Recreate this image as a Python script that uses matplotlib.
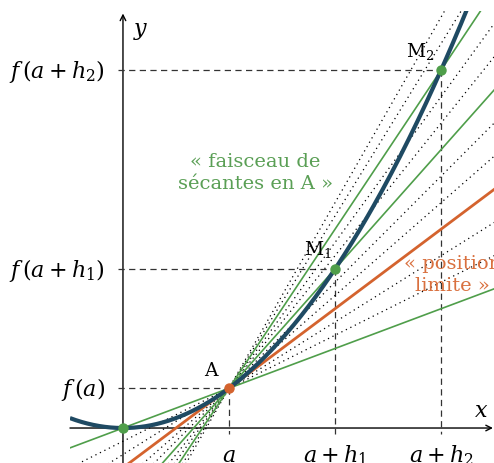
import matplotlib
matplotlib.use("Agg")
import matplotlib.pyplot as plt
import numpy as np
from matplotlib.patches import Rectangle

# f(x) = c x^2, point A at x = a, points M1, M2 at a+h1, a+h2
c = 0.375
a = 1.0
h_green = [-1.0, 1.0, 2.0]
h_dotted = [-2/3, -1/3, 1/3, 2/3, 4/3, 5/3, 7/3, 8/3]
h_marks = [1.0, 2.0]
xtick_labels = [r'$a$', r'$a+h_1$', r'$a+h_2$']
ytick_labels = [r'$f\,(a)$', r'$f\,(a+h_1)$', r'$f\,(a+h_2)$']

blue = '#1f4a63'
green = '#4f9e4a'
orange = '#d4632e'
dash_col = '#333333'

plt.rcParams['font.family'] = ['DejaVu Serif']
plt.rcParams['mathtext.fontset'] = 'dejavuserif'


def f(x):
    return c * x ** 2


def slope(h):
    return (f(a + h) - f(a)) / h


fig = plt.figure(figsize=(4.94, 4.64), dpi=100)
ax = fig.add_axes([0, 0, 1, 1])
ax.set_xlim(-1.160, 3.500)
ax.set_ylim(-0.330, 4.047)
ax.set_aspect('equal')
ax.axis('off')

clip = Rectangle((-0.5, -0.6), 4.0, 4.53, transform=ax.transData,
                 facecolor='none', edgecolor='none')
ax.add_patch(clip)

xs = np.linspace(-0.6, 3.6, 50)
for h in h_dotted:
    ln, = ax.plot(xs, f(a) + slope(h) * (xs - a), color='black', lw=0.9,
                  ls=(0, (1, 3)), zorder=2)
    ln.set_clip_path(clip)
for h in h_green:
    ln, = ax.plot(xs, f(a) + slope(h) * (xs - a), color=green, lw=1.2,
                  zorder=3)
    ln.set_clip_path(clip)

# tangent: limit position
ln, = ax.plot(xs, f(a) + 2 * c * a * (xs - a), color=orange, lw=2.0, zorder=4)
ln.set_clip_path(clip)

# curve
xc = np.linspace(-0.5, 3.6, 300)
ln, = ax.plot(xc, f(xc), color=blue, lw=3.0, zorder=5, solid_capstyle='butt')
ln.set_clip_path(clip)

# axes with arrows
ax.annotate('', xy=(3.49, 0), xytext=(-0.5, 0),
            arrowprops=dict(arrowstyle='->', lw=1.0, color='black',
                            shrinkA=0, shrinkB=0), zorder=1)
ax.annotate('', xy=(0, 3.91), xytext=(0, -0.34),
            arrowprops=dict(arrowstyle='->', lw=1.0, color='black',
                            shrinkA=0, shrinkB=0), zorder=1)
ax.text(3.38, 0.17, r'$x$', fontsize=16, ha='center', va='center')
ax.text(0.17, 3.75, r'$y$', fontsize=16, ha='center', va='center')

# dashed guides
xp = [a] + [a + h for h in h_marks]
for xv, xl, yl in zip(xp, xtick_labels, ytick_labels):
    yv = f(xv)
    ax.plot([-0.05, xv], [yv, yv], color=dash_col, lw=0.9, ls=(0, (5, 3.5)),
            zorder=1)
    ax.plot([xv, xv], [yv, -0.06], color=dash_col, lw=0.9, ls=(0, (5, 3.5)),
            zorder=1)
    ax.text(xv, -0.25, xl, fontsize=16, ha='center', va='center')
    ax.text(-0.17, yv, yl, fontsize=16, ha='right', va='center')

# points
ax.plot([0], [0], 'o', color=green, ms=6.5, zorder=6)
ax.plot([a], [f(a)], 'o', color=orange, ms=6.5, zorder=6)
ax.plot([a + h for h in h_marks], [f(a + h) for h in h_marks], 'o',
        color=green, ms=6.5, zorder=6)

ax.text(a - 0.17, f(a) + 0.17, 'A', fontsize=13.5, ha='center', va='center')
ax.text(a + h_marks[0] - 0.16, f(a + h_marks[0]) + 0.19, r'M$_1$',
        fontsize=13.5, ha='center', va='center')
ax.text(a + h_marks[1] - 0.2, f(a + h_marks[1]) + 0.19, r'M$_2$',
        fontsize=13.5, ha='center', va='center')

ax.text(1.25, 2.415, '« faisceau de\nsécantes en A »', fontsize=14,
        color='#5a9f55', ha='center', va='center', linespacing=1.3)
ax.text(3.11, 1.45, '« position\nlimite »', fontsize=14, color='#d9703f',
        ha='center', va='center', linespacing=1.3)

fig.savefig('out.png', dpi=100)
